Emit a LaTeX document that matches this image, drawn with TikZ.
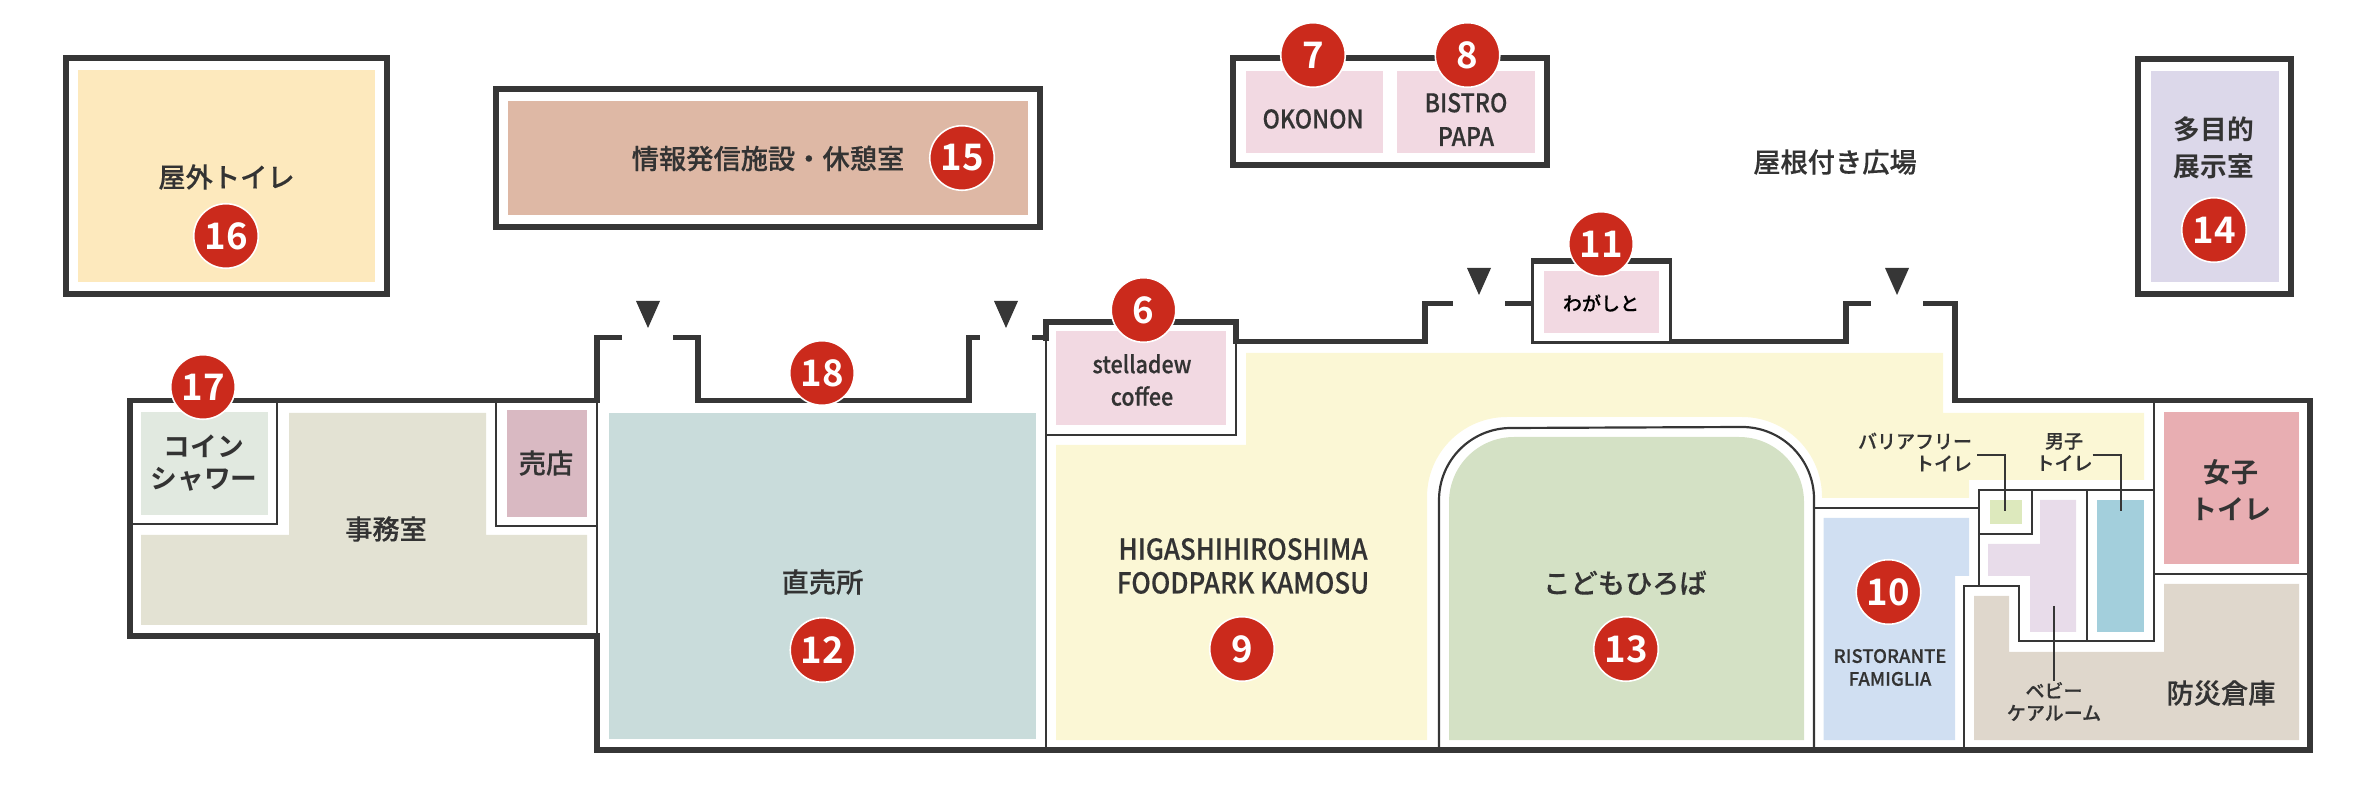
\documentclass[tikz,border=0pt]{standalone}
\usepackage{fontspec}
\usepackage{xcolor}
\usepackage{tikz}
\usetikzlibrary{calc}
\newfontfamily\jpfont[FakeBold=0.35]{Noto Sans CJK JP Medium}
\newfontfamily\jpbold{Noto Sans CJK JP Bold}
\newfontfamily\latinfont[FakeBold=0.35, FakeStretch=0.9]{Noto Sans CJK JP Medium}

\definecolor{wallcol}{HTML}{363636}
\definecolor{inkcol}{HTML}{333333}
\definecolor{redcol}{HTML}{CB2A1C}
\definecolor{foodcol}{HTML}{FBF7D5}
\definecolor{shopcol}{HTML}{F2D9E2}
\definecolor{infocol}{HTML}{DEB8A5}
\definecolor{wccol}{HTML}{FDE9BD}
\definecolor{hallcol}{HTML}{DCD8EA}
\definecolor{coincol}{HTML}{E1E9E0}
\definecolor{officecol}{HTML}{E3E2D3}
\definecolor{kioskcol}{HTML}{D9B9C2}
\definecolor{marketcol}{HTML}{C9DCDB}
\definecolor{kidscol}{HTML}{D4E1C5}
\definecolor{famigliacol}{HTML}{D0DFF2}
\definecolor{womencol}{HTML}{E8AEB2}
\definecolor{mencol}{HTML}{A3CFDC}
\definecolor{freecol}{HTML}{DDE9BD}
\definecolor{babycol}{HTML}{E8DCEA}
\definecolor{storecol}{HTML}{DFD7CC}

\tikzset{
	wall/.style = {draw = wallcol, line width = 1.55pt},
	midwall/.style = {draw = wallcol, line width = 0.85pt},
	thinwall/.style = {draw = wallcol, line width = 0.62pt},
	badge/.style = {circle, fill = redcol, draw = white, line width = 0.45pt, minimum size = 0.645cm, inner sep = 0pt, text = white, font = \jpbold\fontsize{10.4}{11}\selectfont},
	biglabel/.style = {inner sep = 0pt, align = center, text = inkcol, font = \jpfont\fontsize{7.75}{10.2}\selectfont},
	latinlabel/.style = {inner sep = 0pt, align = center, text = inkcol, font = \latinfont\fontsize{7.3}{9.6}\selectfont},
	smalllabel/.style = {inner sep = 0pt, align = center, text = inkcol, font = \jpfont\fontsize{5.4}{6.3}\selectfont},
	doortip/.style = {fill = wallcol}
}

\begin{document}
\begin{tikzpicture}[x = 0.01cm, y = -0.01cm]
	\useasboundingbox (0,0) rectangle (2364,807);

	\begin{scope}
		\fill [wccol] (78,70) rectangle (375,282);
		\fill [infocol] (508,101) rectangle (1028,215);
		\fill [shopcol] (1245.5,71) rectangle (1382.5,153);
		\fill [shopcol] (1397,71) rectangle (1535,153);
		\fill [hallcol] (2151,71) rectangle (2279,282);
		\fill [coincol] (141,412) rectangle (268,515);
		\fill [officecol] (289,413) -- (486,413) -- (486,535) -- (587,535) -- (587,625) -- (141,625) -- (141,535) -- (289,535) -- cycle;
		\fill [kioskcol] (507,410) rectangle (587,517);
		\fill [marketcol] (609,413) rectangle (1036,739);
		\fill [shopcol] (1056,331) rectangle (1226,425);
		\fill [shopcol] (1544,271) rectangle (1659,333);
		\fill [foodcol] (1056,445) -- (1246,445) -- (1246,353) -- (1943,353) -- (1943,413) -- (2144,413) -- (2144,480) -- (1969,480) -- (1969,498) -- (1822,498) -- (1822,497) arc [start angle = 0, end angle = -90, radius = 80] -- (1507,417) arc [start angle = -90, end angle = -180, radius = 80] -- (1427,740) -- (1056,740) -- cycle;
		\fill [kidscol] (1449,740) -- (1449,502) arc [start angle = 180, end angle = 270, radius = 65] -- (1739,437) arc [start angle = 270, end angle = 360, radius = 65] -- (1804,740) -- cycle;
		\fill [famigliacol] (1823.5,518) -- (1969,518) -- (1969,576) -- (1955,576) -- (1955,740) -- (1823.5,740) -- cycle;
		\fill [womencol] (2164,412) rectangle (2299,564);
		\fill [mencol] (2097,500) rectangle (2144,632);
		\fill [freecol] (1990,500) rectangle (2022,524);
		\fill [babycol] (2040,500) -- (2076,500) -- (2076,632) -- (2030,632) -- (2030,576) -- (1988,576) -- (1988,544) -- (2040,544) -- cycle;
		\fill [storecol] (1974,596) -- (2009,596) -- (2009,652) -- (2164,652) -- (2164,584) -- (2299,584) -- (2299,740) -- (1974,740) -- cycle;
	\end{scope}

	\begin{scope}
		\draw [wall] (66,58) rectangle (387,294);
		\draw [wall] (496,89) rectangle (1040,227);
		\draw [wall] (1233,58) rectangle (1547,165);
		\draw [wall] (2138,59) rectangle (2291,294);

		\draw [wall] (622,337.5) -- (597,337.5) -- (597,400.5) -- (130,400.5) -- (130,636) -- (597,636) -- (597,750) -- (2310,750) -- (2310,400.5) -- (1955,400.5) -- (1955,303.7) -- (1923,303.7);
		\draw [wall] (673,337.5) -- (698,337.5) -- (698,400.5) -- (969,400.5) -- (969,337.5) -- (980,337.5);
		\draw [wall] (1032,337.5) -- (1046,337.5);
		\draw [wall] (1046,341) -- (1046,322) -- (1236,322) -- (1236,341.5) -- (1425,341.5) -- (1425,303.7) -- (1453,303.7);
		\draw [wall] (1505,303.7) -- (1532,303.7);
		\draw [wall] (1531,261) -- (1671.5,261);
		\draw [wall] (1670,341.5) -- (1846,341.5) -- (1846,303.7) -- (1871,303.7);
	\end{scope}

	\begin{scope}
		\draw [midwall] (1532.5,261) -- (1532.5,342.5) -- (1670,342.5) -- (1670,261);
		\draw [thinwall] (277,400) -- (277,524) -- (130,524);
		\draw [thinwall] (496,400) -- (496,526) -- (597,526);
		\draw [thinwall] (597,400) -- (597,636);
		\draw [thinwall] (1046,340) -- (1046,750);
		\draw [thinwall] (1236,340) -- (1236,435) -- (1046,435);
		\draw [thinwall] (1439,750) -- (1439,500) arc [start angle = 180, end angle = 270, radius = 72] -- (1742,427) arc [start angle = 270, end angle = 360, radius = 72] -- (1814,750);
		\draw [thinwall] (1814,508) -- (1979,508);
		\draw [thinwall] (1964,750) -- (1964,586) -- (2019,586) -- (2019,641) -- (2154,641) -- (2154,400);
		\draw [thinwall] (1979,586) -- (1979,490) -- (2154,490);
		\draw [thinwall] (1979,534) -- (2032,534) -- (2032,490);
		\draw [thinwall] (2087,490) -- (2087,641);
		\draw [thinwall] (2154,574) -- (2310,574);
	\end{scope}

	\begin{scope}
		\foreach \x/\y in {648/301, 1006/301, 1479/268, 1897/268}
		{
			\fill [doortip] (\x-12,\y) -- (\x+12,\y) -- (\x,\y+27) -- cycle;
		}
	\end{scope}

	\begin{scope}
		\node [biglabel] (wc) at (226.5,177) {屋外トイレ};
		\node [biglabel] (info) at (768,158.5) {情報発信施設・休憩室};
		\node [latinlabel] (okonon) at (1313,119) {OKONON};
		\node [latinlabel] (bistro) at (1466,119.5) {BISTRO\\PAPA};
		\node [biglabel] (plaza) at (1835,162) {屋根付き広場};
		\node [biglabel, font = \jpbold\fontsize{7.6}{10.6}\selectfont] (hall) at (2214,147.5) {多目的\\展示室};
		\node [biglabel, font = \jpbold\fontsize{7.6}{8.9}\selectfont] (coin) at (204,463) {コイン\\シャワー};
		\node [biglabel] (office) at (386,529) {事務室};
		\node [biglabel] (kiosk) at (546,463) {売店};
		\node [biglabel] (market) at (822.5,582) {直売所};
		\node [latinlabel, font = \latinfont\fontsize{6.8}{9.2}\selectfont] (stelladew) at (1142,380) {stelladew\\coffee};
		\node [smalllabel, text = black] (wagashi) at (1601,303) {わがしと};
		\node [latinlabel, font = \latinfont\fontsize{8.2}{9.6}\selectfont] (foodpark) at (1243,566) {HIGASHIHIROSHIMA\\FOODPARK KAMOSU};
		\node [biglabel] (kids) at (1625,583) {こどもひろば};
		\node [latinlabel, font = \jpfont\fontsize{5.25}{6.5}\selectfont] (famiglia) at (1890,667.5) {RISTORANTE\\FAMIGLIA};
		\node [biglabel] (store) at (2221,693) {防災倉庫};
		\node [biglabel, font = \jpbold\fontsize{7.7}{10.4}\selectfont] (women) at (2231,490) {女子\\トイレ};
		\node [smalllabel, align = right] (free) at (1915,452) {バリアフリー\\トイレ};
		\node [smalllabel] (men) at (2064,452) {男子\\トイレ};
		\node [smalllabel] (baby) at (2054,701.5) {ベビー\\ケアルーム};
	\end{scope}

	\begin{scope}
		\coordinate (freeend) at (2005,511);
		\coordinate (menend) at (2121,511);
		\coordinate (babytop) at (2054,606);
		\coordinate (freestart) at (1977,455);
		\coordinate (menstart) at (2092.5,455);
		\draw [thinwall] (freestart) -| (freeend);
		\draw [thinwall] (menstart) -| (menend);
		\draw [thinwall] (babytop) -- (baby.north);
	\end{scope}

	\begin{scope}
		\foreach \n/\x/\y in {6/1143.5/310, 7/1313/55, 8/1467.5/55, 9/1242/649, 10/1888.5/592, 11/1601/244, 12/822.5/650, 13/1626/649, 14/2214/230, 15/962/158, 16/226/236, 17/203/387, 18/822/373}
		{
			\node [badge] (badge\n) at (\x,\y) {\n};
		}
	\end{scope}
\end{tikzpicture}
\end{document}
